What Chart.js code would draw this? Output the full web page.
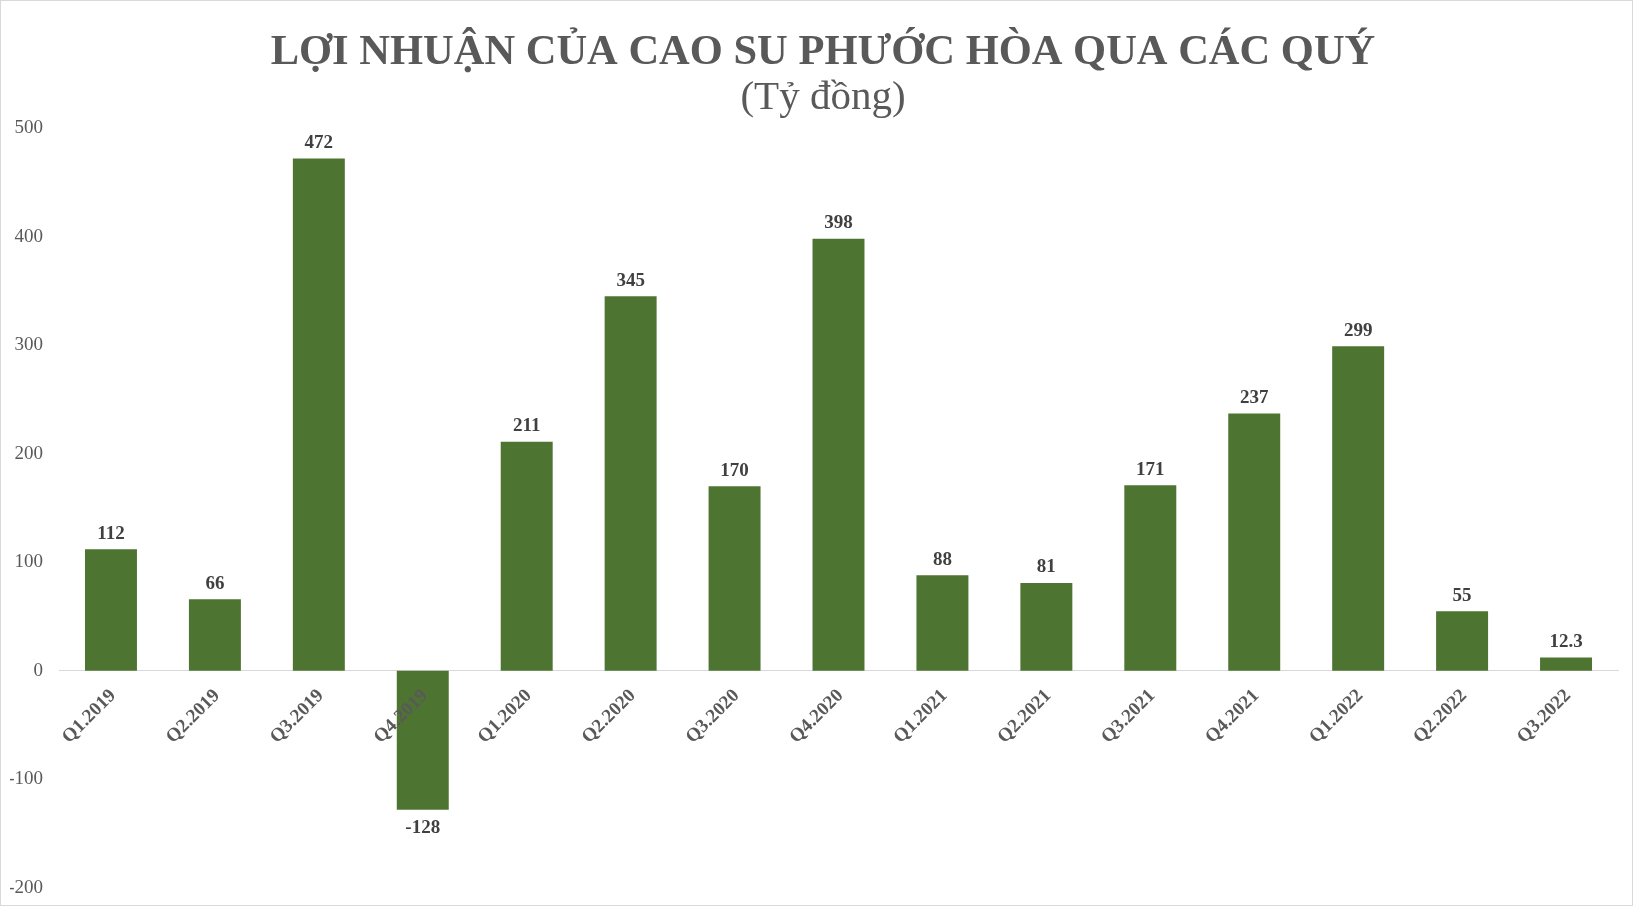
<!DOCTYPE html>
<html>
<head>
<meta charset="utf-8">
<script src="https://cdn.jsdelivr.net/npm/chart.js@4.4.1/dist/chart.umd.min.js"></script>
<style>
html,body{margin:0;padding:0;background:#fff;}
#wrap{position:relative;width:1633px;height:906px;}
</style>
</head>
<body>
<div id="wrap"><canvas id="c" width="1633" height="906"></canvas></div>
<script>
const categories = ["Q1.2019","Q2.2019","Q3.2019","Q4.2019","Q1.2020","Q2.2020","Q3.2020","Q4.2020","Q1.2021","Q2.2021","Q3.2021","Q4.2021","Q1.2022","Q2.2022","Q3.2022"];
const profit = [112, 66, 472, -128, 211, 345, 170, 398, 88, 81, 171, 237, 299, 55, 12.3];
const yTicks = [-200, -100, 0, 100, 200, 300, 400, 500];
const titleText = "LỢI NHUẬN CỦA CAO SU PHƯỚC HÒA QUA CÁC QUÝ";
const subtitleText = "(Tỷ đồng)";

const SERIF = "'Liberation Serif', 'Times New Roman', serif";

const labelPlugin = {
  id: 'barLabels',
  afterDatasetsDraw(chart) {
    const ctx = chart.ctx;
    const meta = chart.getDatasetMeta(0);
    ctx.save();
    ctx.font = "bold 19px " + SERIF;
    ctx.fillStyle = "#404040";
    ctx.textAlign = "center";
    meta.data.forEach((el, i) => {
      const v = profit[i];
      if (v >= 0) {
        ctx.textBaseline = "bottom";
        ctx.fillText(String(v), el.x, el.y - 6);
      } else {
        ctx.textBaseline = "top";
        ctx.fillText(String(v), el.x, el.y + 9);
      }
    });
    ctx.restore();
  },
  afterDraw(chart) {
    const ctx = chart.ctx;
    ctx.save();
    ctx.fillStyle = "#595959";
    ctx.textAlign = "center";
    ctx.textBaseline = "alphabetic";
    ctx.font = "bold 42.5px " + SERIF;
    ctx.fillText(titleText, 823, 64);
    ctx.font = "41px " + SERIF;
    ctx.fillText(subtitleText, 823, 109);
    ctx.strokeStyle = "#d9d9d9";
    ctx.lineWidth = 1;
    ctx.strokeRect(0.5, 0.5, chart.width - 1, chart.height - 1);
    ctx.restore();
  }
};

new Chart(document.getElementById('c'), {
  type: 'bar',
  data: {
    labels: categories,
    datasets: [{
      data: profit,
      backgroundColor: '#4E7431',
      barPercentage: 0.5,
      categoryPercentage: 1.0
    }]
  },
  options: {
    responsive: false,
    animation: false,
    layout: { padding: { left: 10, right: 15, top: 128, bottom: 18 } },
    plugins: {
      legend: { display: false },
      tooltip: { enabled: false },
      title: { display: false },
      subtitle: { display: false }
    },
    scales: {
      x: {
        position: { y: 0 },
        grid: { display: false, drawTicks: false },
        border: { display: true, color: '#d9d9d9', width: 1 },
        afterFit(scale) { scale.paddingLeft = 0; scale.paddingRight = 0; },
        ticks: {
          z: 1,
          color: '#595959',
          font: { family: SERIF, size: 19, weight: 'bold' },
          minRotation: 45,
          maxRotation: 45,
          autoSkip: false,
          padding: 14,
          labelOffset: 2
        }
      },
      y: {
        min: -200,
        max: 500,
        afterBuildTicks(scale) { scale.ticks = yTicks.map(v => ({ value: v })); },
        afterFit(scale) { scale.width = 49; scale.paddingTop = 0; scale.paddingBottom = 0; },
        grid: { display: false, drawTicks: false },
        border: { display: false },
        ticks: {
          color: '#595959',
          font: { family: SERIF, size: 19 },
          padding: 16
        }
      }
    }
  },
  plugins: [labelPlugin]
});
</script>
</body>
</html>
